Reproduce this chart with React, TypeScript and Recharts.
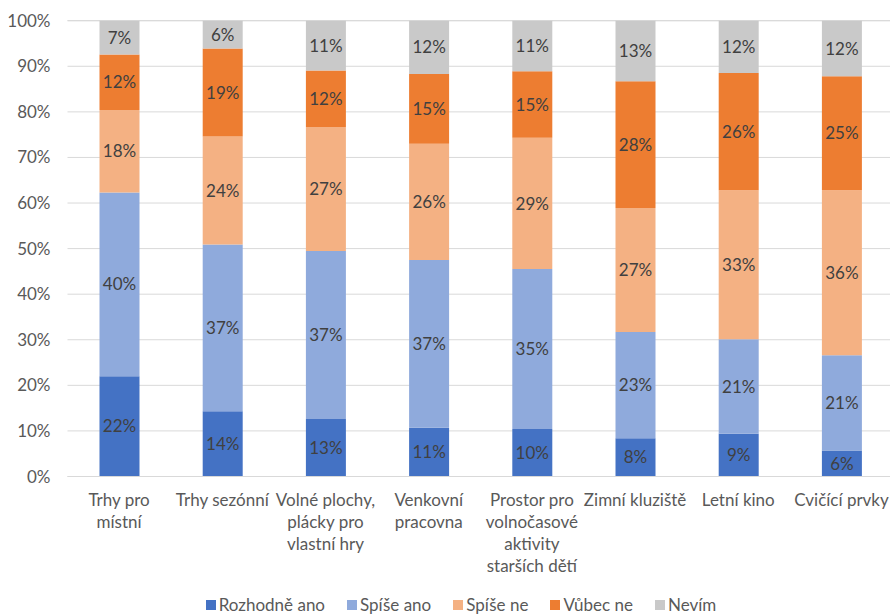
import React from "react";
import { BarChart, Bar, XAxis, YAxis, CartesianGrid, Legend, LabelList } from "recharts";

const categories = [
  "Trhy pro\nmístní",
  "Trhy sezónní",
  "Volné plochy,\nplácky pro\nvlastní hry",
  "Venkovní\npracovna",
  "Prostor pro\nvolnočasové\naktivity\nstarších dětí",
  "Zimní kluziště",
  "Letní kino",
  "Cvičící prvky",
];
const rozhodneAno = [22.0, 14.3, 12.6, 10.7, 10.4, 8.4, 9.4, 5.7];
const spiseAno = [40.3, 36.6, 36.9, 36.8, 35.1, 23.3, 20.7, 20.9];
const spiseNe = [18.1, 23.7, 27.2, 25.5, 28.8, 27.2, 32.7, 36.2];
const vubecNe = [12.2, 19.3, 12.4, 15.3, 14.6, 27.8, 25.7, 25.0];
const nevim = [7.4, 6.1, 10.9, 11.7, 11.1, 13.3, 11.5, 12.2];
const yTicks = [0, 10, 20, 30, 40, 50, 60, 70, 80, 90, 100];

const seriesNames = ["Rozhodně ano", "Spíše ano", "Spíše ne", "Vůbec ne", "Nevím"];
const seriesColors = ["#4472C4", "#8FAADC", "#F4B183", "#ED7D31", "#C9C9C9"];
const seriesValues = [rozhodneAno, spiseAno, spiseNe, vubecNe, nevim];

const data = categories.map((c, i) => {
  const row: any = { name: c };
  seriesNames.forEach((s, k) => (row[s] = seriesValues[k][i]));
  return row;
});

const FONT = "Lato, 'Liberation Sans', sans-serif";

const XTick = (props: any) => {
  const { x, y, payload } = props;
  const lines = String(payload.value).split("\n");
  return (
    <text x={x} y={y + 29} textAnchor="middle" fill="#595959" fontSize={17} fontFamily={FONT}>
      {lines.map((l, i) => (
        <tspan key={i} x={x} dy={i === 0 ? 0 : 22.3}>
          {l}
        </tspan>
      ))}
    </text>
  );
};

const LegendContent = () => (
  <div
    style={{
      display: "flex",
      justifyContent: "center",
      alignItems: "center",
      height: 18,
      lineHeight: "18px",
      fontFamily: FONT,
      fontSize: 17,
      color: "#595959",
      gap: 22,
    }}
  >
    {seriesNames.map((n, i) => (
      <div key={n} style={{ display: "flex", alignItems: "center", height: 18 }}>
        <span style={{ display: "inline-block", width: 10, height: 10, background: seriesColors[i], marginRight: 3 }} />
        <span>{n}</span>
      </div>
    ))}
  </div>
);

export default function App() {
  return (
    <div style={{ position: "absolute", left: 0, top: 0, width: 890, height: 614, overflow: "hidden", background: "#fff" }}>
      <BarChart
        width={900}
        height={614}
        data={data}
        margin={{ top: 20.7, right: 6.9, left: 0, bottom: 19.5 }}
      >
        <CartesianGrid vertical={false} stroke="#d9d9d9" strokeWidth={1} />
        <XAxis
          dataKey="name"
          interval={0}
          height={100}
          tickLine={false}
          tickSize={0}
          tickMargin={0}
          axisLine={{ stroke: "#d9d9d9" }}
          tick={<XTick />}
        />
        <YAxis
          width={67.5}
          domain={[0, 100]}
          ticks={yTicks}
          tickFormatter={(v: number) => `${v}%`}
          axisLine={false}
          tickLine={false}
          tickSize={0}
          tickMargin={17}
          tick={{ fill: "#595959", fontSize: 17, fontFamily: FONT }}
        />
        <Legend
          verticalAlign="bottom"
          content={<LegendContent />}
          wrapperStyle={{ top: 596, bottom: "auto", left: 0, width: 922, height: 18 }}
        />
        {seriesNames.map((s, i) => (
          <Bar key={s} dataKey={s} stackId="a" fill={seriesColors[i]} barSize={40} isAnimationActive={false}>
            <LabelList
              dataKey={s}
              position="center"
              formatter={(v: any) => `${Math.round(Number(v))}%`}
              fill="#404040"
              fontSize={17}
              fontFamily={FONT}
            />
          </Bar>
        ))}
      </BarChart>
    </div>
  );
}
